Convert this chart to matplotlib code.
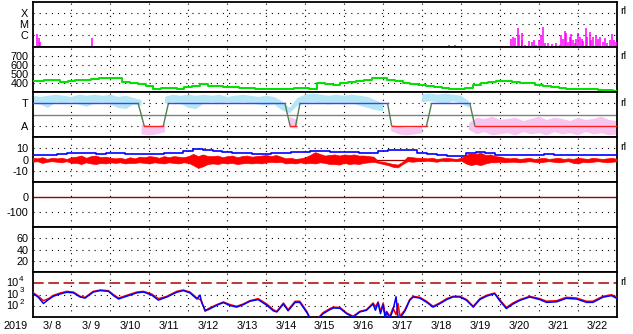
import numpy as np
import matplotlib
matplotlib.use('Agg')
import matplotlib.pyplot as plt

plt.rcParams['font.family'] = ['Liberation Sans', 'DejaVu Sans']

# ---------------- data (time in days since 2019-03-08 00:00) ----------------
year_label = '2019'
day_labels = ['3/ 8', '3/ 9', '3/10', '3/11', '3/12', '3/13', '3/14', '3/15',
              '3/16', '3/17', '3/18', '3/19', '3/20', '3/21', '3/22']

# X-ray flux (log10 W/m2)
xr_t = [0.12, 0.16, 0.18, 1.38, 1.52, 10.70, 10.85,
        12.29, 12.33, 12.38, 12.45, 12.49, 12.55, 12.57, 12.63, 12.74, 12.81,
        12.86, 12.93, 13.00, 13.04, 13.10, 13.15, 13.23, 13.32, 13.43, 13.53,
        13.57, 13.62, 13.66, 13.70, 13.74, 13.79, 13.83, 13.87, 13.92, 13.96,
        14.00, 14.04, 14.09, 14.13, 14.20, 14.23, 14.30, 14.34, 14.38, 14.45,
        14.51, 14.56, 14.63, 14.68, 14.74, 14.81, 14.86, 14.92, 14.97]
xr_log = [-5.92, -6.28, -6.65, -7.0, -6.28, -6.95, -6.95,
          -6.40, -6.16, -6.31, -5.40, -6.01, -6.46, -5.80, -6.92, -6.52, -6.65,
          -6.46, -6.92, -6.46, -6.01, -5.31, -6.77, -6.71, -6.86, -6.77, -6.92,
          -6.01, -6.40, -5.62, -5.86, -6.62, -6.16, -5.95, -6.46, -6.71, -6.40,
          -5.80, -6.16, -6.40, -6.52, -5.40, -6.22, -5.71, -6.46, -6.22, -6.01,
          -6.40, -6.22, -6.62, -6.31, -6.77, -6.46, -5.95, -6.46, -6.62]

# Solar wind speed (km/s), every 0.2 day
sw_speed = [420, 425, 430, 428, 415, 420, 428, 432, 445, 452,
            458, 450, 412, 398, 385, 362, 335, 345, 340, 338,
            356, 366, 385, 370, 362, 356, 350, 346, 343, 338,
            336, 333, 335, 337, 340, 344, 334, 405, 392, 380,
            400, 407, 425, 438, 452, 452, 435, 418, 400, 388,
            378, 365, 355, 342, 333, 338, 346, 375, 400, 415,
            418, 418, 410, 404, 395, 382, 370, 355, 342, 335,
            333, 333, 330, 325, 318, 312]

# IMF sector boundaries (1 = T, -1 = A)
sector_t = [0.0, 2.713, 2.864, 3.359, 3.487, 6.479, 6.608, 6.754, 6.864,
            9.113, 9.215, 10.113, 10.241, 11.223, 11.351, 15.0]
sector_v = [1, 1, -1, -1, 1, 1, -1, -1, 1, 1, -1, -1, 1, 1, -1, -1]

nan = np.nan
# IMF direction band (sector units), every 0.2 day
phi_t_hi = [1.7, 1.6, 1.7, 1.8, 1.7, 1.6, 1.8, 1.7, 1.8, 1.7, 1.8, 1.6, 1.7, 1.5, 1.3,
            nan, nan, 1.6, 1.8, 1.7, 1.8, 1.7, 1.8, 1.7, 1.8, 1.6, 1.7, 1.8, 1.7, 1.6,
            1.7, 1.6, 1.2, 0.6, 1.5, 1.8, 1.9, 1.8, 1.7, 1.8, 1.7, 1.8, 1.7, 1.6, 1.3,
            1.0, nan, nan, nan, nan, 1.8, 1.9, 1.8, 1.9, 1.8, 1.7, 1.2] + [nan] * 19
phi_t_lo = [1.0, 0.9, 0.6, 1.1, 1.0, 1.1, 0.9, 0.7, 1.0, 1.1, 0.9, 0.6, 0.5, 0.9, 0.8,
            nan, nan, 1.0, 1.1, 1.0, 0.6, 0.5, 1.0, 1.1, 1.0, 1.1, 1.0, 1.1, 1.0, 0.9,
            0.8, 0.9, 0.4, 0.1, 0.8, 1.0, 1.1, 1.0, 0.9, 1.0, 0.9, 1.0, 0.8, 0.6, 0.4,
            0.3, nan, nan, nan, nan, 1.1, 1.2, 1.1, 1.0, 1.2, 1.0, 0.6] + [nan] * 19
phi_a_hi = [nan] * 14 + [-0.9, -1.0, -1.1, -0.9] + [nan] * 15 + [-0.2, -0.5] + [nan] * 11 + \
           [-0.9, -1.1, -1.2, -1.2, -1.0] + [nan] * 5 + \
           [-0.8, -0.3, -0.4, -0.2, -0.5, -0.4, -0.3, -0.6, -0.4, -0.2, -0.5, -0.3, -0.4,
            -0.6, -0.3, -0.5, -0.4, -0.2, -0.5, -0.6]
phi_a_lo = [nan] * 14 + [-1.8, -1.9, -1.8, -1.6] + [nan] * 15 + [-1.2, -1.3] + [nan] * 11 + \
           [-1.5, -1.8, -1.9, -1.8, -1.7] + [nan] * 5 + \
           [-1.4, -1.8, -1.6, -1.9, -1.8, -1.7, -1.9, -1.6, -1.8, -1.7, -1.9, -1.6, -1.8,
            -1.7, -1.9, -1.6, -1.8, -1.7, -1.9, -1.8]

# IMF Bt (nT), every 0.25 day
bt = [4.0, 4.2, 4.0, 5.0, 5.5, 5.8, 5.5, 5.3, 5.8, 5.5, 5.2, 5.0, 4.5, 4.8, 5.5, 6.0,
      7.5, 9.5, 8.5, 7.5, 7.0, 6.0, 5.5, 5.0, 5.2, 5.5, 6.0, 6.5, 7.0, 7.5, 8.0, 7.0,
      6.5, 6.5, 6.0, 5.5, 7.5, 8.5, 8.8, 8.5, 5.5, 4.5, 3.8, 3.5, 3.5, 5.5, 6.5, 6.0,
      4.0, 4.0, 3.8, 4.0, 4.2, 4.5, 4.2, 4.0, 4.3, 4.0, 3.8, 3.8, 3.8]
# IMF Bz range (nT), every 0.125 day
bz_hi = [1.5, 1, 2, 0.5, 1.5,
         1, 1.5, 0.5, 2,
         2.5, 3.5, 1.5, 3, 3.5, 2, 2.5, 1.5,
         1, 1.5, 0.5, 2, 1, 2.5,
         2, 3, 2.5, 1.5, 3, 2, 3, 2.5, 2, 3,
         5, 3, 4.5, 3,
         3, 3.5, 2, 3, 3.5, 2, 3, 3.5, 2.5, 3, 3.5,
         4, 3, 4, 2.5,
         1, 1.5, 0.5, 1, 2,
         4, 6.5, 5, 3.5, 4,
         4.5, 3.5, 4.5, 4, 4.5, 3.5, 3.5,
         3, 2.5,
         -1.5, -2, -3, -4, -4.5, -2,
         2.5, 2, 1.5,
         1.5, 1, 1.5, 0.5, 1, 1.5, 1, 0.5, 1.5,
         4, 6, 5, 6, 4, 4.5, 3, 2.5,
         1.5, 1, 1.5, 0.5, 1, 1.5, 0.5, 1, 1.5, 0.5, 1, 1.5, 0.5, 1, 0.5, 1.5,
         1, 0.5, 1.5, 1, 0.5, 1, 1.5, 0.5]
bz_lo = [-2, -1.5, -3, -2, -1.5,
         -2, -2.5, -1.5, -3,
         -3, -4, -2.5, -3.5, -4, -3, -3.5, -2.5,
         -3, -2.5, -3.5, -3, -3, -2.5,
         -3, -3.5, -2.5, -3, -3.5, -2.5, -3, -3.5, -2.5, -3,
         -5, -7.5, -6, -4,
         -3.5, -4, -3, -3.5, -3, -4, -3.5, -3, -3.5, -3, -3.5,
         -2.5, -2, -2.5, -2,
         -3.5, -3, -3.5, -2.5, -3.5,
         -3, -3.5, -2.5, -3, -4,
         -4, -4.5, -3, -4, -3.5, -4, -3,
         -2.5, -2,
         -3, -4, -5, -6.5, -7, -4,
         -1.5, -2, -1.5,
         -1.5, -1, -1.5, -2, -1, -1.5, -1, -1.5, -1,
         -3.5, -5, -4, -5, -3.5, -2.5, -2.5, -2,
         -2.5, -2, -2, -2.5, -2, -1.5, -2, -2.5, -2, -1.5, -2, -2.5, -2, -1.5, -3, -3.5,
         -2, -2.5, -2, -1.5, -2, -2.5, -2, -1.5]

# >2MeV electron flux (log10), two satellites
ef_t = [0.03, 0.15, 0.28, 0.41, 0.54, 0.71, 0.88, 1.05, 1.22, 1.35, 1.56, 1.74, 1.95,
        2.08, 2.21, 2.42, 2.68, 2.85, 3.06, 3.23, 3.45, 3.70, 3.87, 4.04, 4.22, 4.30,
        4.34, 4.43, 4.51, 4.73, 4.90, 5.07, 5.24, 5.41, 5.58, 5.79, 6.01, 6.18, 6.27,
        6.44, 6.56, 6.74, 6.86, 7.04, 7.12, 7.33, 7.46, 7.63, 7.72, 7.89, 8.06, 8.23,
        8.40, 8.57, 8.74, 8.80, 8.87, 8.93, 9.00, 9.05, 9.09, 9.17, 9.25, 9.33, 9.38,
        9.43, 9.56, 9.68, 9.77, 9.94, 10.11, 10.28, 10.45, 10.63, 10.79, 10.97, 11.14,
        11.31, 11.48, 11.65, 11.86, 11.99, 12.16, 12.33, 12.51, 12.76, 13.02, 13.19,
        13.45, 13.70, 13.96, 14.22, 14.38, 14.64, 14.86, 14.99]
ef_red_log = [3.13, 2.84, 2.45, 2.63, 2.93, 3.13, 3.28, 3.22, 2.84, 2.75, 3.28, 3.40, 3.34,
              2.98, 2.69, 2.93, 3.22, 3.28, 3.04, 2.63, 2.84, 3.28, 3.40, 3.22, 2.69, 2.55,
              2.40, 1.50, 1.74, 2.10, 2.34, 2.10, 1.95, 2.16, 2.45, 2.63, 2.16, 1.65, 1.50,
              2.25, 1.65, 2.40, 2.40, 1.50, 0.9, 0.9, 1.40, 1.74, 1.88, 1.85, 1.36, 1.06,
              1.50, 1.65, 2.25, 1.9, 2.34, 1.5, 2.25, 1.2, 1.50, 1.06, 1.8, 1.2, 2.2,
              1.06, 1.65, 2.55, 2.84, 2.75, 2.40, 1.95, 2.25, 2.63, 2.84, 2.84, 2.55,
              1.95, 2.63, 2.93, 3.13, 2.55, 1.85, 2.25, 2.55, 2.84, 2.63, 2.40,
              2.45, 2.75, 2.69, 2.40, 2.40, 2.84, 2.98, 2.75]
ef_blue_log = [3.05, 2.75, 2.20, 2.55, 2.85, 3.05, 3.20, 3.15, 2.78, 2.68, 3.22, 3.35, 3.28,
               2.90, 2.60, 2.85, 3.15, 3.22, 2.95, 2.50, 2.78, 3.20, 3.35, 3.15, 2.60, 2.95,
               2.30, 1.60, 1.65, 2.05, 2.28, 2.02, 1.88, 2.10, 2.40, 2.55, 2.05, 1.55, 1.45,
               2.15, 1.55, 2.30, 2.30, 1.40, 0.9, 0.9, 1.30, 1.65, 1.80, 1.78, 1.30, 1.0,
               1.45, 1.60, 2.15, 1.6, 2.25, 1.3, 2.1, 0.9, 1.40, 0.9, 1.6, 2.8, 1.0,
               0.9, 1.55, 2.48, 2.78, 2.68, 2.32, 1.88, 2.18, 2.55, 2.78, 2.78, 2.48,
               1.88, 2.55, 2.85, 3.08, 2.45, 1.75, 2.15, 2.48, 2.78, 2.55, 2.30,
               2.35, 2.66, 2.60, 2.30, 2.30, 2.76, 2.90, 2.66]
flux_ticks = [2, 3, 4]

# ---------------- layout ----------------
W, H = 633, 334
fig = plt.figure(figsize=(W / 100, H / 100), dpi=100)
fig.patch.set_facecolor('white')
X0, X1 = 32.5, 617.0
PW = X1 - X0
bounds = [2, 47, 92, 137, 182, 227, 272, 317]
FS = 7.8
DOT = (0, (1, 4.5))
axes = []
for i in range(7):
    top, bot = bounds[i], bounds[i + 1]
    ax = fig.add_axes([X0 / W, (H - bot) / H, PW / W, (bot - top) / H])
    ax.set_xlim(0, 15)
    for s in ax.spines.values():
        s.set_linewidth(1.3)
        s.set_color('black')
    ax.tick_params(axis='both', length=0, labelsize=FS, pad=3)
    ax.set_xticks([])
    for d in range(1, 15):
        ax.axvline(d, color='black', lw=0.8, ls=DOT, zorder=1)
    axes.append(ax)

def hgrid(ax, vals):
    for v in vals:
        ax.axhline(v, color='black', lw=0.8, ls=DOT, zorder=1)

# Panel 1: X-ray
ax = axes[0]
ax.set_yscale('log')
ax.set_ylim(10 ** -7.1, 1e-3)
hgrid(ax, [1e-6, 1e-5, 1e-4])
ax.set_yticks([1e-6, 1e-5, 1e-4], ['C', 'M', 'X'])
ax.minorticks_off()
ax.vlines(xr_t, 10 ** -7.1, 10 ** np.array(xr_log), color='#ff00ff', lw=1.1, zorder=3)

# Panel 2: solar wind speed
ax = axes[1]
ax.set_ylim(300, 800)
hgrid(ax, [400, 500, 600, 700])
ax.set_yticks([400, 500, 600, 700], ['400', '500', '600', '700'])
sw_t = np.linspace(0, 15, len(sw_speed))
ax.plot(sw_t, sw_speed, color='#00e000', lw=1.4, drawstyle='steps-mid', zorder=3)

# Panel 3: IMF sector
ax = axes[2]
ax.set_ylim(-2.045, 2.045)
hgrid(ax, [1, -1])
ax.axhline(0, color='#808080', lw=1.0, zorder=2)
ax.set_yticks([1, -1], ['T', 'A'])
phi_t = np.linspace(0, 15, len(phi_t_hi))
ax.fill_between(phi_t, phi_t_lo, phi_t_hi, color='#b4e6f6', lw=0, zorder=2)
ax.fill_between(phi_t, phi_a_lo, phi_a_hi, color='#f8c4f0', lw=0, zorder=2)
for k in range(len(sector_t) - 1):
    a, b = sector_v[k], sector_v[k + 1]
    c = '#4040ff' if (a == 1 and b == 1) else ('#ff2020' if (a == -1 and b == -1) else '#508050')
    ax.plot(sector_t[k:k + 2], sector_v[k:k + 2], color=c, lw=1.0, zorder=4)

# Panel 4: Bz / Bt
ax = axes[3]
ax.set_ylim(-20, 20)
hgrid(ax, [10, -10])
ax.axhline(0, color='#a00000', lw=0.9, zorder=2)
ax.set_yticks([10, 0, -10], ['10', '0', '-10'])
bt_t = np.linspace(0, 15, len(bt))
bz_t = np.linspace(0, 15, len(bz_hi))
ax.plot(bt_t, bt, color='#0000ff', lw=1.2, drawstyle='steps-mid', zorder=3)
ax.fill_between(bz_t, bz_lo, bz_hi, color='#ff0000', lw=0.5, zorder=4)

# Panel 5: Dst
ax = axes[4]
ax.set_ylim(-200, 100)
hgrid(ax, [-100])
ax.axhline(0, color='#a00000', lw=1.0, zorder=2)
ax.set_yticks([0, -100], ['0', '-100'])

# Panel 6
ax = axes[5]
ax.set_ylim(0, 80)
hgrid(ax, [20, 40, 60])
ax.set_yticks([20, 40, 60], ['20', '40', '60'])

# Panel 7: electron flux
ax = axes[6]
ax.set_yscale('log')
ax.set_ylim(10, 1e5)
hgrid(ax, [1e2, 1e3])
ax.axhline(1e4, color='#b00000', lw=1.1, ls=(0, (7, 3)), zorder=2)
ax.set_yticks([])
ax.minorticks_off()
ytr = ax.get_yaxis_transform()
for e in flux_ticks:
    ax.text(-14.0 / PW, 10 ** e, '10', transform=ytr, ha='right', va='center', fontsize=FS)
    ax.text(-13.3 / PW, 10 ** (e + 0.33), str(e), transform=ytr, ha='left', va='center', fontsize=5.8)
ax.plot(ef_t, 10 ** np.array(ef_red_log), color='#ff0000', lw=1.1, zorder=3)
ax.plot(ef_t, 10 ** np.array(ef_blue_log), color='#0000ff', lw=1.1, zorder=4)
ax.set_xticks(np.arange(len(day_labels)) + 0.5, day_labels)
ax.tick_params(axis='x', labelsize=FS, pad=3)

fig.text(4 / W, 1 - 326 / H, year_label, fontsize=FS, va='center', ha='left')
for yy in [11, 56, 103, 147, 282]:
    fig.text(620 / W, 1 - yy / H, 'rl', fontsize=FS, va='center', ha='left')

fig.savefig('out.png', dpi=100)
